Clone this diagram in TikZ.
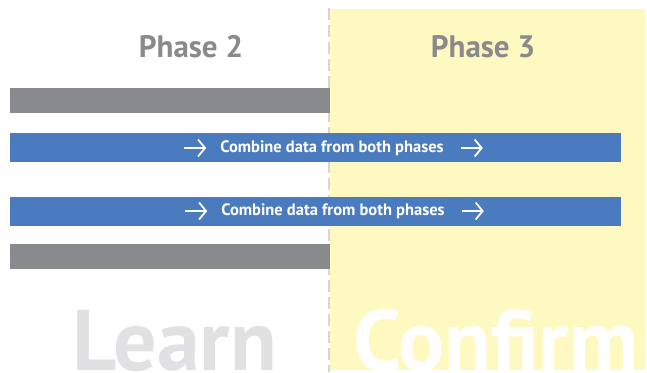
\documentclass[tikz,border=0pt]{standalone}
\usepackage{fontspec}
\setmainfont{PT Sans}
\usetikzlibrary{arrows.meta, positioning}

\definecolor{barGray}{HTML}{898A8E}
\definecolor{barBlue}{HTML}{4A7BBF}
\definecolor{phaseYellow}{HTML}{FEF9C1}
\definecolor{phaseGray}{HTML}{8A8A8D}
\definecolor{learnGray}{HTML}{E1E1E3}
\definecolor{divider}{HTML}{D6D6D8}

\begin{document}
\begin{tikzpicture}[
    x=1pt, y=-1pt,
    graybar/.style={rectangle, fill=barGray, minimum width=320pt, minimum height=25pt, inner sep=0pt, anchor=north west},
    bluebar/.style={rectangle, fill=barBlue, minimum width=611pt, minimum height=29pt, inner sep=0pt, anchor=north west},
    phase/.style={text=phaseGray, font=\bfseries\fontsize{31}{34}\selectfont, inner sep=0pt},
    stage/.style={font=\bfseries\fontsize{86}{94}\selectfont, inner sep=0pt, text depth=0pt, anchor=base west},
    label/.style={text=white, font=\bfseries\fontsize{16.5}{18}\selectfont, inner sep=0pt},
    arrow/.style={white, line width=1.8pt, -{Straight Barb[length=7pt, width=17pt]}}
]
\useasboundingbox (0,0) rectangle (647,372);

% Background
\fill[phaseYellow] (330,9) rectangle (645,370);
\draw[divider, line width=2pt, dash pattern=on 12pt off 5pt] (329,8) -- (329,372);

% Headings
\node (phase2) [phase] at (191,47) {Phase 2};
\node (phase3) [phase] at (483,47) {Phase 3};

% Bars
\node (gray1) [graybar] at (10,88) {};
\node (blue1) [bluebar] at (10,133) {};
\node (blue2) [bluebar] at (10,197) {};
\node (gray2) [graybar] at (10,244) {};

% Bar labels
\node (combine1) [label] at (332,148) {Combine data from both phases};
\node (combine2) [label] at (333,211) {Combine data from both phases};

% Arrows
\draw [arrow] ([xshift=-36pt]combine1.west) -- ([xshift=-14pt]combine1.west);
\draw [arrow] ([xshift=17pt]combine1.east) -- ([xshift=39pt]combine1.east);
\draw [arrow] ([xshift=-36pt]combine2.west) -- ([xshift=-14pt]combine2.west);
\draw [arrow] ([xshift=17pt]combine2.east) -- ([xshift=39pt]combine2.east);

% Stages
\node (learn) [stage, text=learnGray] at (72,370) {Learn};
\node (confirm) [stage, text=white] at (353,370) {Confirm};

\end{tikzpicture}
\end{document}
